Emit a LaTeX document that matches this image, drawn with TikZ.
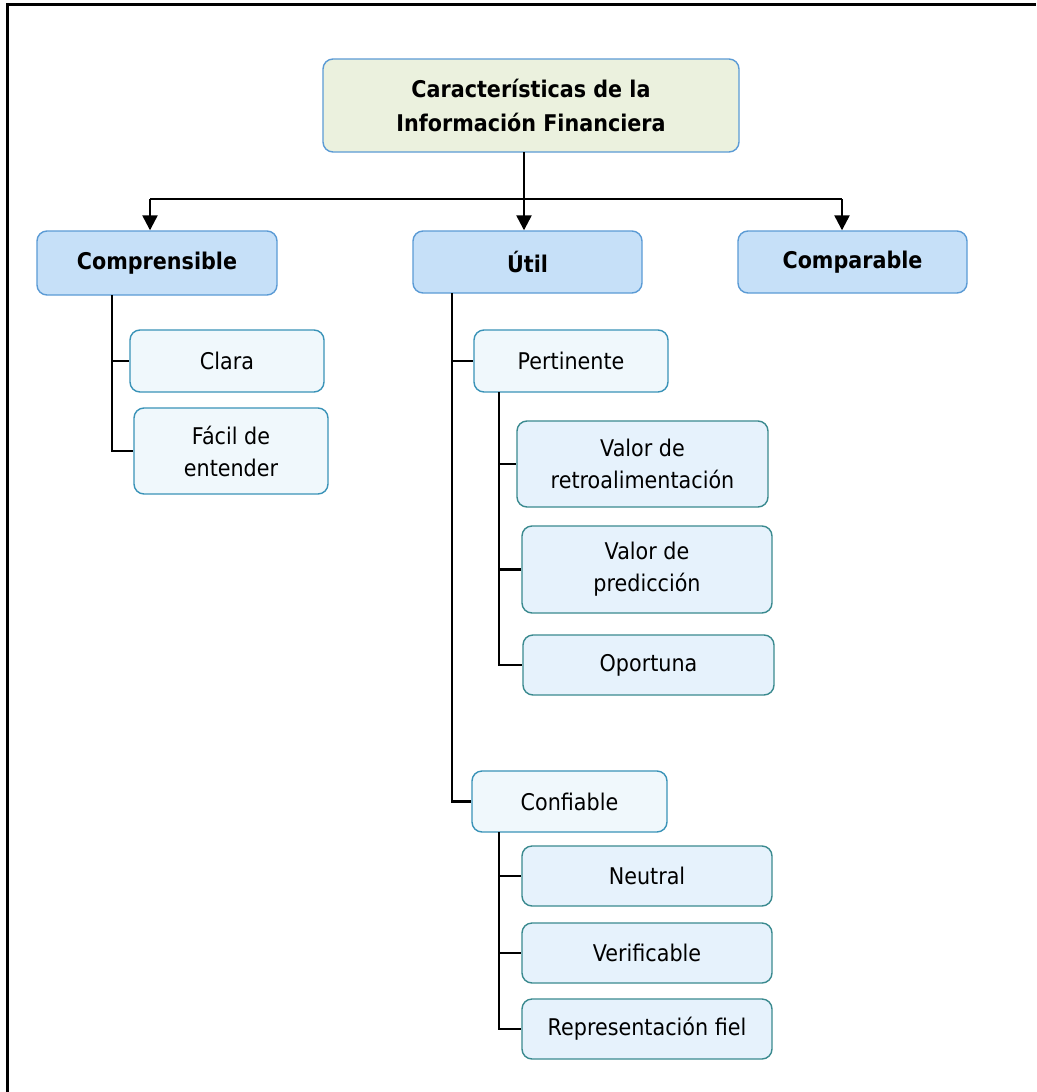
\documentclass[tikz,border=0pt]{standalone}
\usepackage{fontspec}
\setmainfont{DejaVu Sans}[FakeStretch=0.9]
\usetikzlibrary{arrows.meta}

\definecolor{topfill}{HTML}{EBF1DE}
\definecolor{mainblue}{HTML}{5B9BD5}
\definecolor{lvlfill}{HTML}{C6E0F8}
\definecolor{subfill}{HTML}{F0F8FC}
\definecolor{subedge}{HTML}{3A93B8}
\definecolor{leaffill}{HTML}{E6F2FC}
\definecolor{leafedge}{HTML}{3A8A8F}

\tikzset{
  box/.style={rounded corners=10pt, line width=1.4pt, align=center, inner sep=0pt,
    font=\fontsize{23}{32}\selectfont},
  topbox/.style={box, fill=topfill, draw=mainblue, font=\fontsize{23}{34}\selectfont\bfseries},
  lvlbox/.style={box, fill=lvlfill, draw=mainblue, font=\fontsize{23}{32}\selectfont\bfseries},
  subbox/.style={box, fill=subfill, draw=subedge},
  leafbox/.style={box, fill=leaffill, draw=leafedge},
  link/.style={line width=2.4pt, draw=black},
  arrowlink/.style={link, -{Triangle[width=15pt,length=15pt]}},
}

\begin{document}
\begin{tikzpicture}[x=1pt, y=-1pt]
  \useasboundingbox (0,0) rectangle (1036,1092);
  \fill[white] (0,0) rectangle (1036,1092);
  % page frame (top and left edges)
  \draw[line width=2.6pt] (7.5,1092) -- (7.5,4.5) -- (1036,4.5);

  % root
  \node[topbox, minimum width=416pt, minimum height=93pt] (root) at (531,105.5)
    {Características de la\\Información Financiera};

  % first level
  \node[lvlbox, minimum width=240pt, minimum height=64pt] (comp) at (157,263) {Comprensible};
  \node[lvlbox, minimum width=229pt, minimum height=62pt] (util) at (527.5,262) {Útil};
  \node[lvlbox, minimum width=229pt, minimum height=62pt] (compa) at (852.5,262) {Comparable};

  % under Comprensible
  \node[subbox, minimum width=194pt, minimum height=62pt] (clara) at (227,361) {Clara};
  \node[subbox, minimum width=194pt, minimum height=86pt] (facil) at (231,451) {Fácil de\\entender};

  % under Útil
  \node[subbox, minimum width=194pt, minimum height=62pt] (pert) at (571,361) {Pertinente};
  \node[leafbox, minimum width=251pt, minimum height=86pt] (vret) at (642.5,464) {Valor de\\retroalimentación};
  \node[leafbox, minimum width=250pt, minimum height=87pt] (vpre) at (647,569.5) {Valor de\\predicción};
  \node[leafbox, minimum width=251pt, minimum height=60pt] (opor) at (648.5,665) {Oportuna};

  \node[subbox, minimum width=195pt, minimum height=61pt] (conf) at (569.5,801.5) {Confiable};
  \node[leafbox, minimum width=250pt, minimum height=60pt] (neut) at (647,876) {Neutral};
  \node[leafbox, minimum width=250pt, minimum height=60pt] (veri) at (647,953) {Verificable};
  \node[leafbox, minimum width=250pt, minimum height=60pt] (repr) at (647,1029) {Representación fiel};

  % bus from the root to the first level
  \coordinate (trunk) at (524,152);
  \coordinate (busL) at (150,199);
  \coordinate (busR) at (842,199);
  \draw[link] (busL) -- (busR);
  \draw[arrowlink] (trunk) -- (trunk |- util.north);
  \draw[arrowlink] (busL) -- (busL |- comp.north);
  \draw[arrowlink] (busR) -- (busR |- compa.north);

  % Comprensible branches
  \coordinate (compStem) at (112,295);
  \draw[link] (compStem) |- (facil.west);
  \draw[link] (compStem |- clara.west) -- (clara.west);

  % Útil branches
  \coordinate (utilStem) at (452,293);
  \draw[link] (utilStem) |- (conf.west);
  \draw[link] (utilStem |- pert.west) -- (pert.west);

  % Pertinente branches
  \coordinate (pertStem) at (499,392);
  \draw[link] (pertStem) |- (opor.west);
  \draw[link] (pertStem |- vret.west) -- (vret.west);
  \draw[link] (pertStem |- vpre.west) -- (vpre.west);

  % Confiable branches
  \coordinate (confStem) at (499,832);
  \draw[link] (confStem) |- (repr.west);
  \draw[link] (confStem |- neut.west) -- (neut.west);
  \draw[link] (confStem |- veri.west) -- (veri.west);
\end{tikzpicture}
\end{document}
